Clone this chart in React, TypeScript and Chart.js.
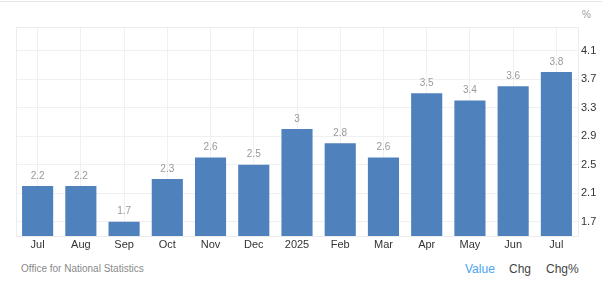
import React, { useEffect, useRef } from "react";
import { Chart, registerables } from "chart.js";

Chart.register(...registerables);

const categories = ["Jul", "Aug", "Sep", "Oct", "Nov", "Dec", "2025", "Feb", "Mar", "Apr", "May", "Jun", "Jul"];
const values = [2.2, 2.2, 1.7, 2.3, 2.6, 2.5, 3.0, 2.8, 2.6, 3.5, 3.4, 3.6, 3.8];
const yTicks = [1.7, 2.1, 2.5, 2.9, 3.3, 3.7, 4.1];
const yMin = 1.5;
const yMax = 4.43;

const FONT = "'Liberation Sans', Arial, sans-serif";

const frameAndLabels = {
  id: "frameAndLabels",
  beforeDatasetsDraw(chart: any) {
    const { ctx, chartArea } = chart;
    ctx.save();
    ctx.strokeStyle = "#ececec";
    ctx.lineWidth = 1;
    ctx.strokeRect(
      Math.round(chartArea.left) + 0.5,
      Math.round(chartArea.top) + 0.5,
      Math.round(chartArea.right - chartArea.left),
      Math.round(chartArea.bottom - chartArea.top)
    );
    ctx.restore();
  },
  afterDatasetsDraw(chart: any) {
    const { ctx } = chart;
    const meta = chart.getDatasetMeta(0);
    ctx.save();
    ctx.font = `10px ${FONT}`;
    ctx.fillStyle = "#999999";
    ctx.textAlign = "center";
    ctx.textBaseline = "middle";
    meta.data.forEach((bar: any, i: number) => {
      ctx.fillText(String(values[i]), bar.x, bar.y - 10);
    });
    ctx.restore();
  },
};

export default function App() {
  const canvasRef = useRef<HTMLCanvasElement | null>(null);

  useEffect(() => {
    const canvas = canvasRef.current;
    if (!canvas) return;
    const chart = new Chart(canvas, {
      type: "bar",
      data: {
        labels: categories,
        datasets: [
          {
            data: values,
            backgroundColor: "#4f81bd",
            borderWidth: 0,
            barPercentage: 0.72,
            categoryPercentage: 1,
          },
        ],
      },
      options: {
        animation: false,
        responsive: false,
        maintainAspectRatio: false,
        layout: { padding: { left: 16, top: 27, right: 0, bottom: 0 } },
        plugins: {
          legend: { display: false },
          tooltip: { enabled: false },
        },
        scales: {
          x: {
            offset: true,
            grid: { offset: false, color: "#f0f0f0", drawTicks: false },
            border: { display: false },
            ticks: {
              color: "#333333",
              font: { family: FONT, size: 11 },
              padding: 2,
              maxRotation: 0,
              autoSkip: false,
            },
            afterFit(scale: any) {
              scale.height = 19;
            },
          },
          y: {
            position: "right",
            min: yMin,
            max: yMax,
            grid: { color: "#f0f0f0", drawTicks: false },
            border: { display: false },
            ticks: {
              color: "#333333",
              font: { family: FONT, size: 11 },
              padding: 3,
              callback: (v: any) => String(v),
            },
            afterBuildTicks(scale: any) {
              scale.ticks = yTicks.map((v) => ({ value: v }));
            },
            afterFit(scale: any) {
              scale.width = 24;
            },
          },
        },
      },
      plugins: [frameAndLabels],
    });
    return () => chart.destroy();
  }, []);

  return (
    <div
      style={{
        position: "absolute",
        left: 0,
        top: 0,
        width: 602,
        height: 289,
        background: "#ffffff",
        overflow: "hidden",
        fontFamily: FONT,
      }}
    >
      <div style={{ position: "absolute", left: 0, top: 1, width: 602, height: 1, background: "#e6e6e6" }} />
      <canvas
        ref={canvasRef}
        width={602}
        height={255}
        style={{ position: "absolute", left: 0, top: 0, width: 602, height: 255 }}
      />
      <div style={{ position: "absolute", left: 582, top: 8, fontSize: 10, color: "#999999", lineHeight: "14px" }}>%</div>
      <div style={{ position: "absolute", left: 21, top: 262, fontSize: 10, color: "#8a8a8a", lineHeight: "14px" }}>
        Office for National Statistics
      </div>
      <div style={{ position: "absolute", left: 465, top: 261, fontSize: 12, color: "#4aa3f0", lineHeight: "16px" }}>Value</div>
      <div style={{ position: "absolute", left: 509, top: 261, fontSize: 12, color: "#444444", lineHeight: "16px" }}>Chg</div>
      <div style={{ position: "absolute", left: 546, top: 261, fontSize: 12, color: "#444444", lineHeight: "16px" }}>Chg%</div>
    </div>
  );
}
